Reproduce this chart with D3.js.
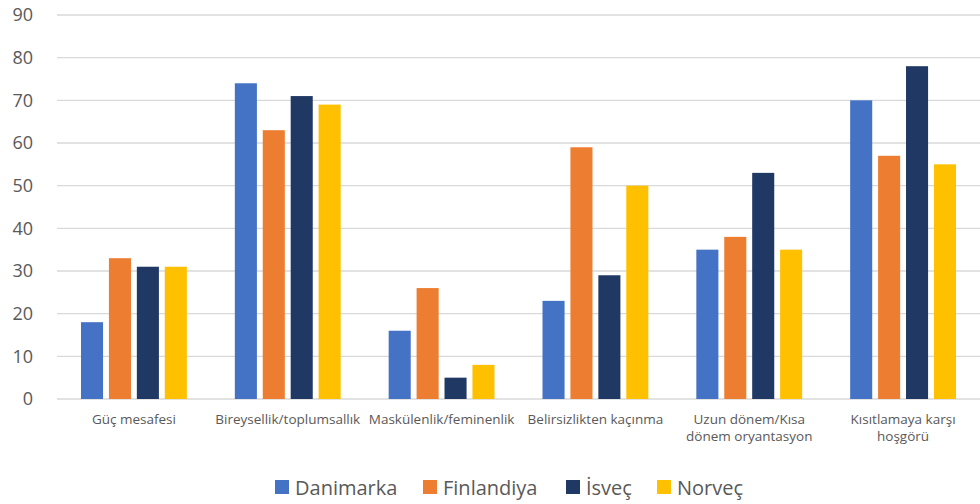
<!DOCTYPE html>
<html>
<head>
<meta charset="utf-8">
<script src="https://cdn.jsdelivr.net/npm/d3@7"></script>
<style>
  body { margin: 0; background: #fff; }
  text { font-family: "Open Sans", sans-serif; fill: #595959; }
</style>
</head>
<body>
<svg width="980" height="504"></svg>
<script>
var categories = ["Güç mesafesi", "Bireysellik/toplumsallık", "Maskülenlik/feminenlik",
                  "Belirsizlikten kaçınma", "Uzun dönem/Kısa dönem oryantasyon", "Kısıtlamaya karşı hoşgörü"];
var labelLines = [["Güç mesafesi"], ["Bireysellik/toplumsallık"], ["Maskülenlik/feminenlik"],
                  ["Belirsizlikten kaçınma"], ["Uzun dönem/Kısa", "dönem oryantasyon"], ["Kısıtlamaya karşı", "hoşgörü"]];
var seriesNames = ["Danimarka", "Finlandiya", "İsveç", "Norveç"];
var danimarka  = [18, 74, 16, 23, 35, 70];
var finlandiya = [33, 63, 26, 59, 38, 57];
var isvec      = [31, 71, 5, 29, 53, 78];
var norvec     = [31, 69, 8, 50, 35, 55];
var yTicks = [0, 10, 20, 30, 40, 50, 60, 70, 80, 90];
var colors = ["#4472C4", "#ED7D31", "#203864", "#FFC000"];

var series = [danimarka, finlandiya, isvec, norvec];

var svg = d3.select("svg"),
    margin = {top: 15, right: 0, bottom: 105, left: 57},
    width = +svg.attr("width") - margin.left - margin.right,
    height = +svg.attr("height") - margin.top - margin.bottom,
    g = svg.append("g").attr("transform", "translate(" + margin.left + "," + margin.top + ")");

var x0 = d3.scaleBand().domain(d3.range(categories.length)).range([0, width]);
var x1 = d3.scaleBand().domain(d3.range(seriesNames.length))
    .range([24, x0.bandwidth() - 24]).paddingInner(0.21);
var y = d3.scaleLinear().domain([0, 90]).range([height, 0]);

// gridlines
g.append("g")
    .selectAll("line")
    .data(yTicks)
  .enter().append("line")
    .attr("x1", 0).attr("x2", width)
    .attr("y1", function(d) { return y(d); })
    .attr("y2", function(d) { return y(d); })
    .attr("stroke", "#d9d9d9")
    .attr("stroke-width", 1.3);

// y labels
g.append("g")
    .selectAll("text")
    .data(yTicks)
  .enter().append("text")
    .attr("x", -24)
    .attr("y", function(d) { return y(d); })
    .attr("dy", "0.35em")
    .attr("text-anchor", "end")
    .style("font-size", "18px")
    .text(function(d) { return d; });

// bars
var groups = g.append("g")
    .selectAll("g")
    .data(categories)
  .enter().append("g")
    .attr("transform", function(d, i) { return "translate(" + x0(i) + ",0)"; });

groups.selectAll("rect")
    .data(function(d, i) { return series.map(function(s, j) { return {s: j, v: s[i]}; }); })
  .enter().append("rect")
    .attr("x", function(d) { return x1(d.s); })
    .attr("width", x1.bandwidth())
    .attr("y", function(d) { return y(d.v); })
    .attr("height", function(d) { return y(0) - y(d.v); })
    .attr("fill", function(d) { return colors[d.s]; });

// category labels
g.append("g")
    .selectAll("text")
    .data(labelLines)
  .enter().append("text")
    .attr("text-anchor", "middle")
    .attr("transform", function(d, i) { return "translate(" + (x0(i) + x0.bandwidth() / 2) + "," + (height + 25) + ")"; })
    .style("font-size", "13.5px")
  .selectAll("tspan")
    .data(function(d) { return d; })
  .enter().append("tspan")
    .attr("x", 0)
    .attr("dy", function(d, i) { return i ? 17 : 0; })
    .text(function(d) { return d; });

// legend
var legendX = [275, 423, 566, 657];
var legend = svg.append("g")
    .selectAll("g")
    .data(seriesNames)
  .enter().append("g")
    .attr("transform", function(d, i) { return "translate(" + legendX[i] + ",488)"; });

legend.append("rect")
    .attr("x", 0).attr("y", -8)
    .attr("width", 14).attr("height", 14)
    .attr("fill", function(d, i) { return colors[i]; });

legend.append("text")
    .attr("x", 20)
    .attr("dy", "0.35em")
    .style("font-size", "20px")
    .text(function(d) { return d; });
</script>
</body>
</html>
